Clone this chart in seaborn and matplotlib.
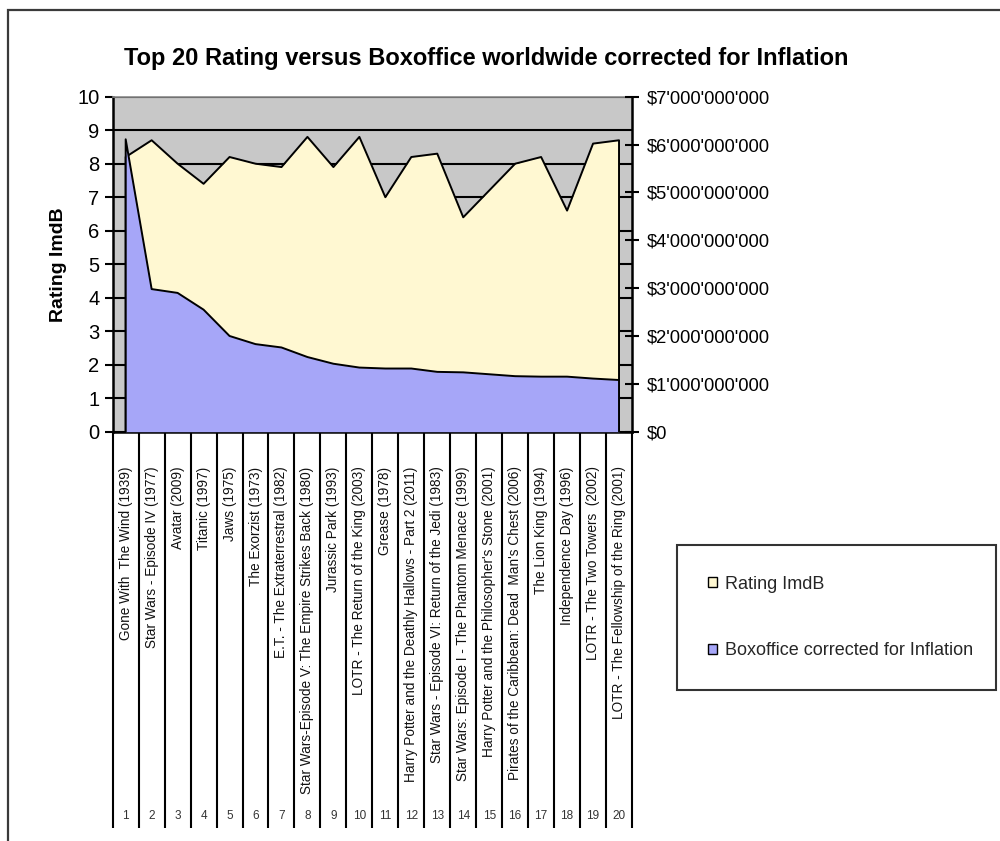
import matplotlib
matplotlib.use("Agg")
import matplotlib.pyplot as plt
import matplotlib.transforms as mtransforms
from matplotlib.patches import Patch, Rectangle
from matplotlib.ticker import FixedLocator, FuncFormatter, MultipleLocator
import numpy as np
import pandas as pd
import seaborn as sns

# ---------------- data ----------------
films = [
    "Gone With  The Wind (1939)",
    "Star Wars - Episode IV (1977)",
    "Avatar (2009)",
    "Titanic (1997)",
    "Jaws (1975)",
    "The Exorzist (1973)",
    "E.T. - The Extraterrestral (1982)",
    "Star Wars-Episode V: The Empire Strikes Back (1980)",
    "Jurassic Park (1993)",
    "LOTR - The Return of the King (2003)",
    "Grease (1978)",
    "Harry Potter and the Deathly Hallows - Part 2 (2011)",
    "Star Wars - Episode VI: Return of the Jedi (1983)",
    "Star Wars: Episode I - The Phantom Menace (1999)",
    "Harry Potter and the Philosopher's Stone (2001)",
    "Pirates of the Caribbean: Dead  Man's Chest (2006)",
    "The Lion King (1994)",
    "Independence Day (1996)",
    "LOTR - The Two Towers  (2002)",
    "LOTR - The Fellowship of the Ring (2001)",
]
rank = list(range(1, 21))
rating = [8.2, 8.7, 8.0, 7.4, 8.2, 8.0, 7.9, 8.8, 7.9, 8.8,
          7.0, 8.2, 8.3, 6.4, 7.2, 8.0, 8.2, 6.6, 8.6, 8.7]
boxoffice = [6.11e9, 2.98e9, 2.90e9, 2.55e9, 2.00e9, 1.83e9, 1.76e9, 1.56e9, 1.42e9, 1.34e9,
             1.32e9, 1.32e9, 1.25e9, 1.24e9, 1.20e9, 1.16e9, 1.15e9, 1.15e9, 1.11e9, 1.08e9]

title = "Top 20 Rating versus Boxoffice worldwide corrected for Inflation"
left_label = "Rating ImdB"
series_names = ["Rating ImdB", "Boxoffice corrected for Inflation"]

df = pd.DataFrame({"rank": rank, "film": films, "rating": rating, "boxoffice": boxoffice})

# ---------------- style ----------------
sns.set_theme(style="white")
plt.rcParams["font.family"] = ["Liberation Sans", "DejaVu Sans"]

C_BG = "#C8C8C8"
C_YEL = "#FFF8D2"
C_BLUE = "#A6A6F8"

fig = plt.figure(figsize=(10, 8.41), dpi=100)
fig.patch.set_facecolor("white")
ax = fig.add_axes([0.1127, 0.4867, 0.5193, 0.3983])
ax.set_facecolor(C_BG)

# rating area (left axis)
ax.fill_between(df["rank"], df["rating"], color=C_YEL, zorder=2, linewidth=0)
outline_x = [df["rank"].iloc[0]] + list(df["rank"]) + [df["rank"].iloc[-1]]
sns.lineplot(x=outline_x, y=[0] + list(df["rating"]) + [0], sort=False, estimator=None,
             color="black", linewidth=1.4, ax=ax, zorder=3)

ax.set_xlim(0.5, 20.5)
ax.set_ylim(0, 10)
ax.yaxis.set_major_locator(MultipleLocator(1))
ax.grid(axis="y", color="black", linewidth=1.5)
ax.grid(axis="x", visible=False)
ax.set_axisbelow(True)

# boxoffice area (right axis)
ax2 = ax.twinx()
ax2.fill_between(df["rank"], df["boxoffice"], color=C_BLUE, zorder=2, linewidth=0)
sns.lineplot(x=outline_x, y=[0] + list(df["boxoffice"]) + [0], sort=False, estimator=None,
             color="black", linewidth=1.4, ax=ax2, zorder=3)
ax2.set_ylim(0, 7e9)
ax2.set_xlim(0.5, 20.5)
ax2.yaxis.set_major_locator(MultipleLocator(1e9))
ax2.yaxis.set_major_formatter(FuncFormatter(lambda v, p: "$" + f"{v:,.0f}".replace(",", "'")))
ax2.grid(False)
ax2.set_ylabel("")

# spines
for s in ["top", "right", "left", "bottom"]:
    ax.spines[s].set_visible(True)
    ax2.spines[s].set_visible(False)
ax.spines["top"].set_color("#8A8A8A")
ax.spines["top"].set_linewidth(1.2)
ax.spines["right"].set_visible(False)
ax.spines["left"].set_color("black")
ax.spines["left"].set_linewidth(1.8)
ax.spines["bottom"].set_color("black")
ax.spines["bottom"].set_linewidth(1.8)
ax2.spines["right"].set_visible(True)
ax2.spines["right"].set_color("black")
ax2.spines["right"].set_linewidth(1.8)

# left ticks
ax.tick_params(axis="y", which="major", left=True, direction="out", length=6, width=1.5,
               color="black", labelsize=14.5, pad=3.5, labelcolor="black")
ax.set_ylabel(left_label, fontsize=14, fontweight="bold", color="black")
ax.yaxis.set_label_coords(-0.088, 0.5)

# right ticks
ax2.tick_params(axis="y", which="major", right=True, direction="inout", length=10, width=1.5,
                color="black", labelsize=13.2, pad=5.5, labelcolor="black")

# x axis: separators as long major ticks, names as minor tick labels
ax.xaxis.set_major_locator(FixedLocator(np.arange(0.5, 21.0, 1.0)))
ax.xaxis.set_major_formatter(FuncFormatter(lambda v, p: ""))
ax.xaxis.set_minor_locator(FixedLocator(rank))
ax.set_xticklabels(films, minor=True, rotation=90, fontsize=9.8)
ax.tick_params(axis="x", which="major", bottom=True, direction="out", length=285, width=1.5,
               color="black")
ax.tick_params(axis="x", which="minor", bottom=True, length=0, pad=25, labelcolor="#111111")
ax.set_xlabel("")

# index numbers at the foot of the label table
trans = mtransforms.blended_transform_factory(ax.transData, ax.transAxes)
for r in rank:
    ax.text(r, -1.146, str(r), transform=trans, ha="center", va="center",
            fontsize=8.5, color="#333333")

# title
fig.text(0.486, 1 - 58 / 841, title, ha="center", va="center", fontsize=17,
         fontweight="bold", color="black")

# legend
handles = [Patch(facecolor=C_YEL, edgecolor="black", linewidth=1.0),
           Patch(facecolor=C_BLUE, edgecolor="black", linewidth=1.0)]
leg = fig.legend(handles, series_names, loc="upper left",
                 bbox_to_anchor=(0.677, 1 - 545 / 841 - 0.01, 0.319, 0.01), mode="expand",
                 frameon=True, fancybox=False, shadow=False, fontsize=13,
                 handlelength=0.5, handleheight=0.5, handletextpad=0.45,
                 labelspacing=2.75, borderpad=1.7, borderaxespad=0)
leg.get_frame().set_edgecolor("black")
leg.get_frame().set_linewidth(1.5)
leg.get_frame().set_facecolor("white")

# outer frame of the chart
fig.add_artist(Rectangle((0.008, -0.1), 1.2, 1 - 10 / 841 + 0.1, transform=fig.transFigure,
                         fill=False, edgecolor="#3A3A3A", linewidth=1.6))

fig.savefig("out.png", dpi=100)
